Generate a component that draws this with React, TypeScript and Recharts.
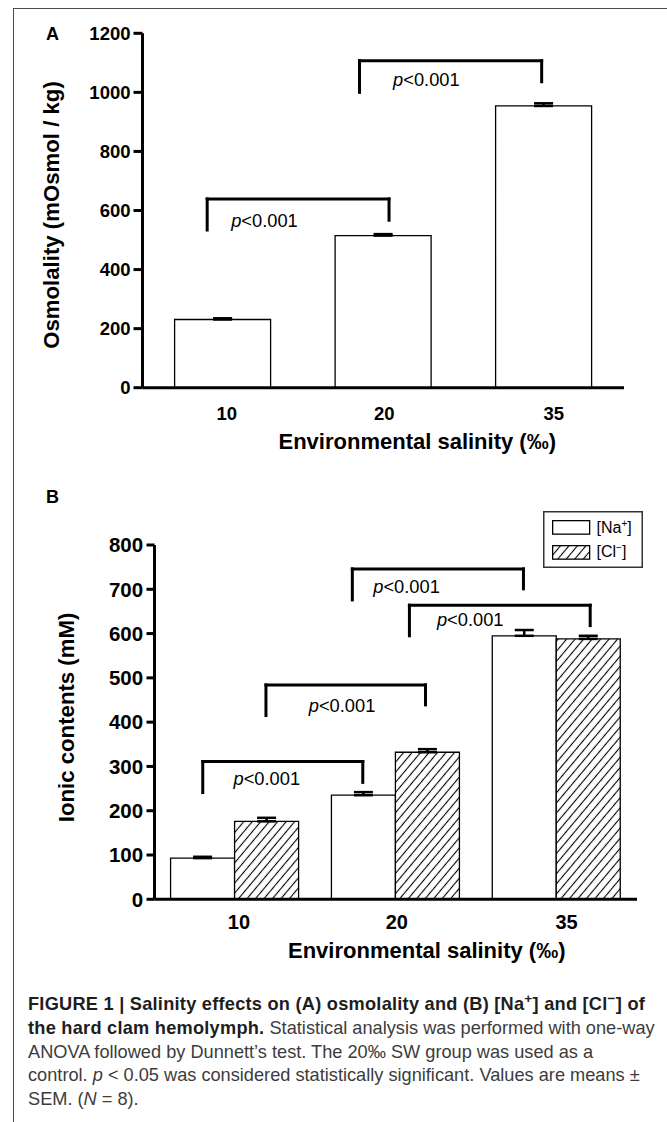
import React from 'react';
import { BarChart, Bar, XAxis, YAxis, ErrorBar, ReferenceLine, ReferenceDot, Legend } from 'recharts';

// ---------- data ----------
const salinity = ['10', '20', '35'];
const osmolality = [231, 515, 954];
const osmolalitySem = [4, 5, 9];
const sodium = [93, 235, 595];
const sodiumSem = [3, 7, 13];
const chloride = [176, 332, 588];
const chlorideSem = [8, 7, 7];
const osmoTicks = [0, 200, 400, 600, 800, 1000, 1200];
const ionTicks = [0, 100, 200, 300, 400, 500, 600, 700, 800];
const pText = '<0.001';

// significance brackets (x in category units 0..3, y in data units)
const osmoBrackets = [
  { x1: 0.403, x2: 1.536, top: 639, left: 534, right: 567, tx: 0.76, ty: 545 },
  { x1: 1.352, x2: 2.487, top: 1107, left: 1000, right: 1036, tx: 1.769, ty: 1021 },
];
const ionBrackets = [
  { x1: 0.3, x2: 1.295, top: 311, left: 241, right: 264, tx: 0.698, ty: 258 },
  { x1: 0.693, x2: 1.685, top: 484, left: 415, right: 439, tx: 1.166, ty: 424 },
  { x1: 1.23, x2: 2.294, top: 746, left: 676, right: 701, tx: 1.567, ty: 692 },
  { x1: 1.585, x2: 2.709, top: 664, left: 595, right: 618, tx: 1.963, ty: 616 },
];

const osmoData = salinity.map((s, i) => ({
  sal: s,
  osm: osmolality[i],
  osmErr: [0, osmolalitySem[i]],
}));
const ionData = salinity.map((s, i) => ({
  sal: s,
  na: sodium[i],
  naErr: [0, sodiumSem[i]],
  cl: chloride[i],
  clErr: [0, chlorideSem[i]],
}));

const FONT = '"Liberation Sans", Arial, Helvetica, sans-serif';
const tickShift: Record<string, number> = { '10': 4, '20': 1, '35': 10 };
const annotationKey = () => 1.5;

function makeXTick(size: number, base: number) {
  return (props: any) => {
    const { x, y, payload } = props;
    return (
      <text
        x={x + (tickShift[payload.value] || 0)}
        y={y + base}
        textAnchor="middle"
        fontFamily={FONT}
        fontWeight="bold"
        fontSize={size}
        fill="#000"
      >
        {payload.value}
      </text>
    );
  };
}

function makeYTitle(text: string, bx: number, dy: number) {
  return (props: any) => {
    const vb = props.viewBox || {};
    const x = (vb.x || 0) + bx;
    const y = (vb.y || 0) + (vb.height || 0) / 2 + dy;
    return (
      <text
        x={x}
        y={y}
        transform={`rotate(-90, ${x}, ${y})`}
        textAnchor="middle"
        fontFamily={FONT}
        fontWeight="bold"
        fontSize={22.2}
        fill="#000"
      >
        {text}
      </text>
    );
  };
}

function makeXTitle(dx: number, base: number) {
  return (props: any) => {
    const vb = props.viewBox || {};
    const x = (vb.x || 0) + (vb.width || 0) / 2 + dx;
    const y = (vb.y || 0) + base;
    return (
      <text x={x} y={y} textAnchor="middle" fontFamily={FONT} fontWeight="bold" fontSize={22} fill="#000">
        Environmental salinity (‰)
      </text>
    );
  };
}

const PShape = (props: any) => (
  <text x={props.cx} y={props.cy} textAnchor="middle" fontFamily={FONT} fontSize={18.3} fill="#000">
    <tspan fontStyle="italic">p</tspan>
    {pText}
  </text>
);

function renderBrackets(list: typeof osmoBrackets, prefix: string) {
  const line = { stroke: '#000', strokeWidth: 3, strokeLinecap: 'square' as const, xAxisId: 'n', ifOverflow: 'visible' as const };
  return list.flatMap((b, i) => [
    <ReferenceLine key={`${prefix}l${i}`} {...line} segment={[{ x: b.x1, y: b.left }, { x: b.x1, y: b.top }]} />,
    <ReferenceLine key={`${prefix}t${i}`} {...line} segment={[{ x: b.x1, y: b.top }, { x: b.x2, y: b.top }]} />,
    <ReferenceLine key={`${prefix}r${i}`} {...line} segment={[{ x: b.x2, y: b.top }, { x: b.x2, y: b.right }]} />,
    <ReferenceDot
      key={`${prefix}p${i}`}
      xAxisId="n"
      x={b.tx}
      y={b.ty}
      r={1}
      ifOverflow="visible"
      shape={(p: any) => <PShape {...p} />}
    />,
  ]);
}

const LegendBox = () => (
  <svg width={100} height={57} style={{ display: 'block' }}>
    <rect x={0.75} y={0.75} width={98.5} height={55.5} fill="#fff" stroke="#333" strokeWidth={1.5} />
    <rect x={9.65} y={9.65} width={37} height={13.5} fill="#fff" stroke="#000" strokeWidth={1.3} />
    <text x={53.5} y={21.8} fontFamily={FONT} fontSize={16} fill="#000">
      [Na<tspan dy={-6} fontSize={10}>+</tspan>
      <tspan dy={6}>]</tspan>
    </text>
    <rect x={9.65} y={34.65} width={37} height={13.5} fill="url(#hatch)" stroke="#000" strokeWidth={1.3} />
    <text x={53.5} y={46.2} fontFamily={FONT} fontSize={16} fill="#000">
      [Cl<tspan dy={-6} fontSize={10}>−</tspan>
      <tspan dy={6}>]</tspan>
    </text>
  </svg>
);

const panelLabel: React.CSSProperties = {
  position: 'absolute',
  left: 46,
  fontFamily: FONT,
  fontWeight: 'bold',
  fontSize: 18,
  lineHeight: '18px',
  color: '#000',
};

const boldCap: React.CSSProperties = { color: '#1e1e1e', letterSpacing: '0.25px' };
const supStyle: React.CSSProperties = { fontSize: '0.75em', lineHeight: 0 };

export default function App() {
  return (
    <div
      style={{
        position: 'absolute',
        left: 0,
        top: 0,
        width: 667,
        height: 1122,
        background: '#fff',
        overflow: 'hidden',
        fontFamily: FONT,
      }}
    >
      <svg width={0} height={0} style={{ position: 'absolute' }}>
        <defs>
          <pattern id="hatch" patternUnits="userSpaceOnUse" width={6.5} height={6.5} patternTransform="rotate(40)">
            <rect x={0} y={0} width={6.5} height={6.5} fill="#fff" />
            <line x1={3.25} y1={-1} x2={3.25} y2={7.5} stroke="#000" strokeWidth={1.1} />
          </pattern>
        </defs>
      </svg>

      {/* frame */}
      <div
        style={{
          position: 'absolute',
          left: 13,
          top: 8,
          width: 720,
          height: 1200,
          borderLeft: '1.5px solid #4a4a4a',
          borderTop: '1.5px solid #4a4a4a',
        }}
      />

      {/* Panel A */}
      <div style={{ position: 'absolute', left: 0, top: 0 }}>
        <BarChart
          width={667}
          height={470}
          data={osmoData}
          margin={{ top: 33.3, right: 43, left: 0, bottom: 12.3 }}
          barCategoryGap="20%"
        >
          <XAxis
            dataKey="sal"
            height={70}
            axisLine={{ stroke: '#000', strokeWidth: 3 }}
            tickLine={false}
            tickSize={0}
            tickMargin={0}
            tick={makeXTick(18.5, 32.3)}
            label={{ content: makeXTitle(34, 61.3) }}
          />
          <XAxis xAxisId="n" dataKey={annotationKey} type="number" domain={[0, 3]} hide allowDataOverflow />
          <YAxis
            width={142.5}
            domain={[0, 1200]}
            ticks={osmoTicks}
            interval={0}
            allowDataOverflow
            axisLine={{ stroke: '#000', strokeWidth: 3 }}
            tickLine={{ stroke: '#000', strokeWidth: 3 }}
            tickSize={9}
            tickMargin={3}
            tick={{ fontSize: 18.5, fontWeight: 'bold', fill: '#000', fontFamily: FONT }}
            label={{ content: makeYTitle('Osmolality (mOsmol / kg)', 59.2, 4.5) }}
          />
          <Bar dataKey="osm" fill="#fff" stroke="#000" strokeWidth={1.3} isAnimationActive={false}>
            <ErrorBar dataKey="osmErr" width={9.5} stroke="#000" strokeWidth={2.5} direction="y" isAnimationActive={false} />
          </Bar>
          {renderBrackets(osmoBrackets, 'a')}
        </BarChart>
      </div>
      <div style={{ ...panelLabel, top: 24.8 }}>A</div>

      {/* Panel B */}
      <div style={{ position: 'absolute', left: 0, top: 470 }}>
        <BarChart
          width={667}
          height={500}
          data={ionData}
          margin={{ top: 75, right: 30, left: 0, bottom: 0.7 }}
          barCategoryGap="10%"
          barGap={0}
        >
          <XAxis
            dataKey="sal"
            height={70}
            axisLine={{ stroke: '#000', strokeWidth: 3 }}
            tickLine={false}
            tickSize={0}
            tickMargin={0}
            tick={makeXTick(20, 30)}
            label={{ content: makeXTitle(31, 59) }}
          />
          <XAxis xAxisId="n" dataKey={annotationKey} type="number" domain={[0, 3]} hide allowDataOverflow />
          <YAxis
            width={154.5}
            domain={[0, 800]}
            ticks={ionTicks}
            interval={0}
            allowDataOverflow
            axisLine={{ stroke: '#000', strokeWidth: 3 }}
            tickLine={{ stroke: '#000', strokeWidth: 3 }}
            tickSize={8}
            tickMargin={3.4}
            tick={{ fontSize: 20.5, fontWeight: 'bold', fill: '#000', fontFamily: FONT }}
            label={{ content: makeYTitle('Ionic contents (mM)', 74.1, -4.7) }}
          />
          <Legend
            layout="vertical"
            align="center"
            verticalAlign="middle"
            wrapperStyle={{ left: 542.7, top: 41, width: 100, height: 57 }}
            content={() => <LegendBox />}
          />
          <Bar dataKey="na" name="[Na+]" fill="#fff" stroke="#000" strokeWidth={1.3} isAnimationActive={false}>
            <ErrorBar dataKey="naErr" width={9.5} stroke="#000" strokeWidth={2.5} direction="y" isAnimationActive={false} />
          </Bar>
          <Bar dataKey="cl" name="[Cl-]" fill="url(#hatch)" stroke="#000" strokeWidth={1.3} isAnimationActive={false}>
            <ErrorBar dataKey="clErr" width={9.5} stroke="#000" strokeWidth={2.5} direction="y" isAnimationActive={false} />
          </Bar>
          {renderBrackets(ionBrackets, 'b')}
        </BarChart>
      </div>
      <div style={{ ...panelLabel, top: 487.8 }}>B</div>

      {/* Caption */}
      <div
        style={{
          position: 'absolute',
          left: 28,
          top: 992.7,
          fontFamily: FONT,
          fontSize: 18.2,
          lineHeight: '23.9px',
          whiteSpace: 'nowrap',
          color: '#3c3c3c',
        }}
      >
        <b style={boldCap}>
          FIGURE 1 | Salinity effects on (A) osmolality and (B) [Na<sup style={supStyle}>+</sup>] and [Cl
          <sup style={supStyle}>−</sup>] of
        </b>
        <br />
        <b style={boldCap}>the hard clam hemolymph.</b> Statistical analysis was performed with one-way
        <br />
        ANOVA followed by Dunnett’s test. The 20‰ SW group was used as a
        <br />
        control. <i>p</i> &lt; 0.05 was considered statistically significant. Values are means ±
        <br />
        SEM. (<i>N</i> = 8).
      </div>
    </div>
  );
}
